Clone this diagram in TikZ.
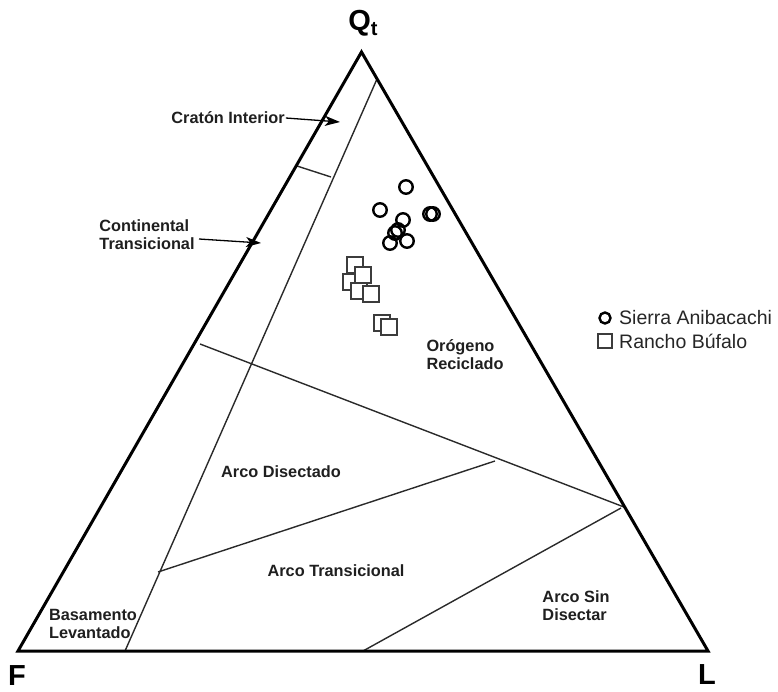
\documentclass[tikz,border=0pt]{standalone}
\usepackage{fontspec}
\setmainfont{Liberation Sans}
\usetikzlibrary{arrows.meta}
\definecolor{sqgray}{HTML}{3C3C3C}
\definecolor{ingray}{HTML}{2A2A2A}
\begin{document}
\begin{tikzpicture}[x=1pt,y=-1pt,
  field/.style={font=\fontsize{16.3}{18}\selectfont\bfseries, text=black!88, align=left, inner sep=0pt},
  apex/.style={font=\fontsize{29}{30}\selectfont\bfseries, inner sep=0pt},
  legendtext/.style={font=\fontsize{19.5}{22}\selectfont, anchor=west, inner sep=0pt, text=black!85},
  edge/.style={line width=3pt, line join=miter},
  divider/.style={line width=1.4pt, ingray},
  pointer/.style={line width=1.3pt, -{Stealth[length=15pt, width=10pt, inset=4pt]}},
  sa/.style={circle, draw=black, line width=2.4pt, minimum size=13.5pt, inner sep=0pt},
  rb/.style={rectangle, draw=sqgray, fill=white, line width=2.4pt, minimum size=16pt, inner sep=0pt},
]
\useasboundingbox (0,0) rectangle (778,692);

% triangle corners
\coordinate (Q) at (361.5,52);
\coordinate (F) at (18,651);
\coordinate (L) at (708,651);

% field boundaries
\coordinate (bl1) at (377,79);
\coordinate (bl2) at (125,651);
\coordinate (ci1) at (297,166);
\coordinate (ci2) at (331,177);
\coordinate (ro1) at (200,344);
\coordinate (ro2) at (624,507);
\coordinate (at1) at (158,572);
\coordinate (at2) at (495,461);
\coordinate (sd1) at (621,508);
\coordinate (sd2) at (363,651);

\draw[divider] (bl1) -- (bl2);
\draw[divider] (ci1) -- (ci2);
\draw[divider] (ro1) -- (ro2);
\draw[divider] (at1) -- (at2);
\draw[divider] (sd1) -- (sd2);
\draw[edge] (Q) -- (F) -- (L) -- cycle;

% corner labels
\node[apex] (lq) at (363,23) {Q\raisebox{-0.32ex}{\fontsize{20}{20}\selectfont t}};
\node[apex] (lf) at (17,676) {F};
\node[apex] (ll) at (707,675) {L};

% field labels
\node[field] (craton) at (228,118) {Cratón Interior};
\node[field] (contin) at (147,235) {Continental\\Transicional};
\node[field] (orog) at (465,355) {Orógeno\\Reciclado};
\node[field] (disec) at (281,472) {Arco Disectado};
\node[field] (trans) at (336,571) {Arco Transicional};
\node[field] (sindis) at (576,606) {Arco Sin\\Disectar};
\node[field] (basam) at (93,624) {Basamento\\Levantado};

% pointers to the narrow fields
\coordinate (cratontip) at (340,122);
\coordinate (contintail) at (199,239);
\coordinate (continthip) at (261,243);
\draw[pointer] (craton.east) ++(1,0) -- (cratontip);
\draw[pointer] (contintail) -- (continthip);

% Rancho Búfalo samples
\foreach \x/\y [count=\i] in {355/265, 351/282, 363/275, 359/291, 371/294, 382/323, 389/327}
  \node[rb] (rb\i) at (\x,\y) {};

% Sierra Anibacachi samples
\foreach \x/\y [count=\i] in {406/187, 380/210, 403/220, 430/214, 433/214, 398/230, 395/233, 390/243, 407/241}
  \node[sa] (sa\i) at (\x,\y) {};

% legend
\node[sa, minimum size=11pt] (legsa) at (605,318) {};
\node[rb, minimum size=14pt, line width=2pt] (legrb) at (605,341) {};
\node[legendtext] (legsat) at (619,318) {Sierra Anibacachi};
\node[legendtext] (legrbt) at (619,341) {Rancho Búfalo};
\end{tikzpicture}
\end{document}
